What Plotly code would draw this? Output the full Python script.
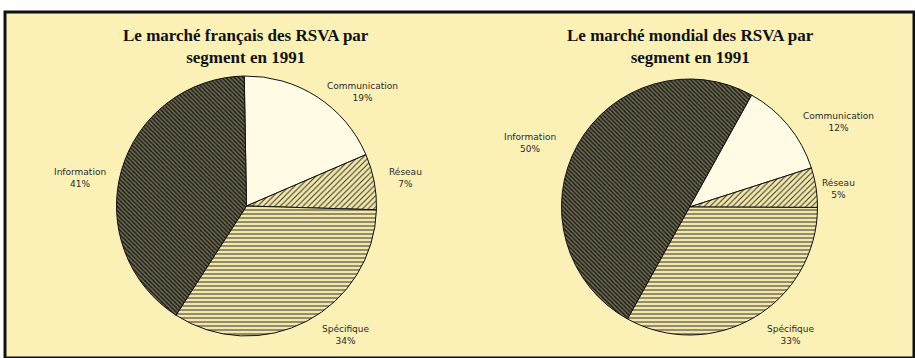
import plotly.graph_objects as go

# Segments of the value-added network services (RSVA) market, 1991
segments = ["Communication", "Réseau", "Spécifique", "Information"]
france_pct = [19, 7, 34, 41]
world_pct = [12, 5, 33, 50]

titles = [
    "Le marché français des RSVA par<br>segment en 1991",
    "Le marché mondial des RSVA par<br>segment en 1991",
]

W, H = 915, 358
BG = "#fbf1b6"

fill_colors = ["#fffbe4", "#f5eaab", "#f3e8aa", "#6e6a53"]
pattern_shapes = ["", "/", "-", "\\"]
pattern_bg = ["#fffbe4", "#f5eaab", "#f3e8aa", "#6e6a53"]
pattern_fg = ["#000", "#3a3a30", "#44443a", "#1a1913"]
pattern_size = [6, 4, 4, 3]
pattern_solid = [0.3, 0.28, 0.28, 0.45]


def px_x(x):
    return x / W


def px_y(y):
    return 1 - y / H


def pie(values, cx, cy, r, rotation):
    return go.Pie(
        labels=segments,
        values=values,
        sort=False,
        direction="clockwise",
        rotation=rotation,
        textinfo="none",
        hoverinfo="label+value",
        showlegend=False,
        domain=dict(x=[px_x(cx - r), px_x(cx + r)], y=[px_y(cy + r), px_y(cy - r)]),
        marker=dict(
            colors=fill_colors,
            line=dict(color="#111", width=1),
            pattern=dict(
                shape=pattern_shapes,
                fgcolor=pattern_fg,
                bgcolor=pattern_bg,
                size=pattern_size,
                solidity=pattern_solid,
                fillmode="replace",
            ),
        ),
    )


fig = go.Figure()
fig.add_trace(pie(france_pct, 246.5, 206, 130, -1))
fig.add_trace(pie(world_pct, 689.5, 207, 128, 29))

annotations = []
for i, cx in enumerate([246, 690]):
    annotations.append(dict(
        x=px_x(cx), y=px_y(46), xref="paper", yref="paper",
        text="<b>" + titles[i] + "</b>", showarrow=False,
        font=dict(family="Liberation Serif", size=17, color="#111"),
        align="center", xanchor="center", yanchor="middle",
    ))

# label anchor points (centre of the two-line label) for each segment
label_pos_fr = [(362, 92), (405, 178), (345, 335), (80, 178)]
label_pos_world = [(838, 122), (838, 189), (790, 335), (530, 143)]
for pos, vals in ((label_pos_fr, france_pct), (label_pos_world, world_pct)):
    for (x, y), name, v in zip(pos, segments, vals):
        annotations.append(dict(
            x=px_x(x), y=px_y(y), xref="paper", yref="paper",
            text=f"{name}<br>{v}%", showarrow=False,
            font=dict(family="DejaVu Sans", size=9, color="#2a2a2a"),
            align="center", xanchor="center", yanchor="middle",
        ))

fig.update_layout(
    width=W, height=H,
    margin=dict(l=0, r=0, t=0, b=0),
    paper_bgcolor="white",
    plot_bgcolor="white",
    annotations=annotations,
    shapes=[dict(
        type="rect", xref="paper", yref="paper", layer="below",
        x0=px_x(5), x1=px_x(914), y0=px_y(358), y1=px_y(12),
        fillcolor=BG, line=dict(color="#111", width=3),
    )],
)

fig.write_html("out.html")
